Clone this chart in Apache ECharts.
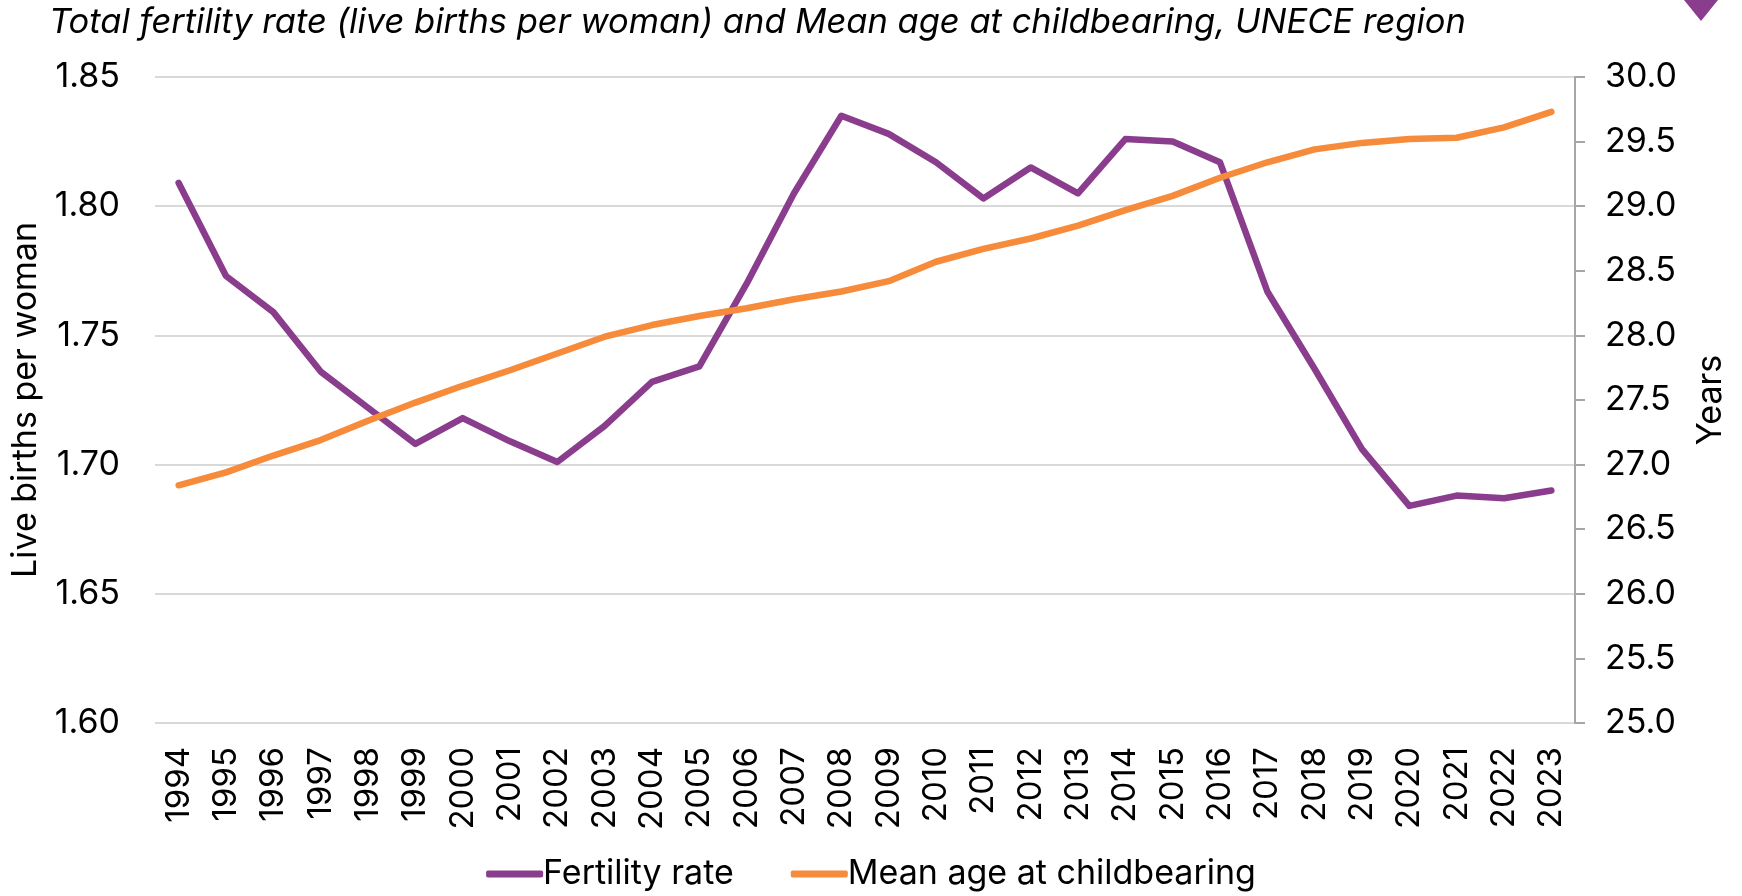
<!DOCTYPE html>
<html>
<head>
<meta charset="utf-8">
<script src="https://cdn.jsdelivr.net/npm/echarts@6/dist/echarts.min.js"></script>
<style>
  html, body { margin: 0; padding: 0; background: #fff; }
  #chart { width: 1742px; height: 896px; }
</style>
</head>
<body>
<div id="chart"></div>
<script>
var years = ['1994','1995','1996','1997','1998','1999','2000','2001','2002','2003',
             '2004','2005','2006','2007','2008','2009','2010','2011','2012','2013',
             '2014','2015','2016','2017','2018','2019','2020','2021','2022','2023'];

// total fertility rate, live births per woman (left axis)
var fertilityRate = [1.809, 1.773, 1.759, 1.736, 1.722, 1.708, 1.718, 1.709, 1.701, 1.715,
                     1.732, 1.738, 1.770, 1.805, 1.835, 1.828, 1.817, 1.803, 1.815, 1.805,
                     1.826, 1.825, 1.817, 1.767, 1.737, 1.706, 1.684, 1.688, 1.687, 1.690];

// mean age at childbearing, years (right axis)
var meanAge = [26.84, 26.94, 27.07, 27.19, 27.34, 27.48, 27.61, 27.73, 27.86, 27.99,
               28.08, 28.15, 28.21, 28.28, 28.34, 28.42, 28.57, 28.67, 28.75, 28.85,
               28.97, 29.08, 29.22, 29.34, 29.44, 29.49, 29.52, 29.53, 29.61, 29.73];

var seriesNames = ['Fertility rate', 'Mean age at childbearing'];
var purple = '#8b3d8d';
var orange = '#f68b3b';
var font = 'Inter';

var chart = echarts.init(document.getElementById('chart'));
chart.setOption({
    animation: false,
    color: [purple, orange],
    textStyle: { fontFamily: font },
    title: {
        text: 'Total fertility rate (live births per woman) and Mean age at childbearing, UNECE region',
        left: 44,
        top: 0,
        textStyle: { fontFamily: font, fontStyle: 'italic', fontWeight: 'normal', fontSize: 34.5, color: '#000' }
    },
    legend: {
        bottom: 0,
        left: 'center',
        itemWidth: 57,
        itemHeight: 7,
        itemGap: 57,
        icon: 'roundRect',
        textStyle: { fontFamily: font, fontSize: 34, color: '#000', padding: [0, 0, 0, -5] },
        data: seriesNames
    },
    grid: { left: 155, right: 167, top: 77, bottom: 173 },
    xAxis: {
        type: 'category',
        data: years,
        boundaryGap: true,
        axisLine: { show: false },
        axisTick: { show: false },
        axisLabel: { rotate: 90, margin: 24, fontSize: 33, color: '#000', fontFamily: font }
    },
    yAxis: [{
        type: 'value',
        min: 1.60,
        max: 1.85,
        interval: 0.05,
        name: 'Live births per woman',
        nameLocation: 'middle',
        nameRotate: 90,
        nameGap: 112,
        nameTextStyle: { fontSize: 34, color: '#000', fontFamily: font },
        axisLine: { show: false },
        axisTick: { show: false },
        axisLabel: { margin: 35, fontSize: 34, color: '#000', fontFamily: font,
                     formatter: function (v) { return v.toFixed(2); } },
        splitLine: { lineStyle: { color: '#d9d9d9', width: 2 } }
    }, {
        type: 'value',
        position: 'right',
        min: 25,
        max: 30,
        interval: 0.5,
        name: 'Years',
        nameLocation: 'middle',
        nameRotate: 90,
        nameGap: 119,
        nameTextStyle: { fontSize: 34, color: '#000', fontFamily: font },
        axisLine: { show: true, lineStyle: { color: '#a6a6a6', width: 2 } },
        axisTick: { show: true, length: 10, lineStyle: { color: '#a6a6a6', width: 2 } },
        axisLabel: { margin: 30, fontSize: 34, color: '#000', fontFamily: font,
                     formatter: function (v) { return v.toFixed(1); } },
        splitLine: { show: false }
    }],
    series: [{
        name: seriesNames[0],
        type: 'line',
        yAxisIndex: 0,
        data: fertilityRate,
        symbol: 'none',
        lineStyle: { width: 6.5, color: purple, cap: 'round', join: 'round' }
    }, {
        name: seriesNames[1],
        type: 'line',
        yAxisIndex: 1,
        data: meanAge,
        symbol: 'none',
        lineStyle: { width: 6.5, color: orange, cap: 'round', join: 'round' }
    }],
    graphic: [{
        type: 'polygon',
        shape: { points: [[1684, 0], [1718, 0], [1701, 21]] },
        style: { fill: purple }
    }]
});
</script>
</body>
</html>
